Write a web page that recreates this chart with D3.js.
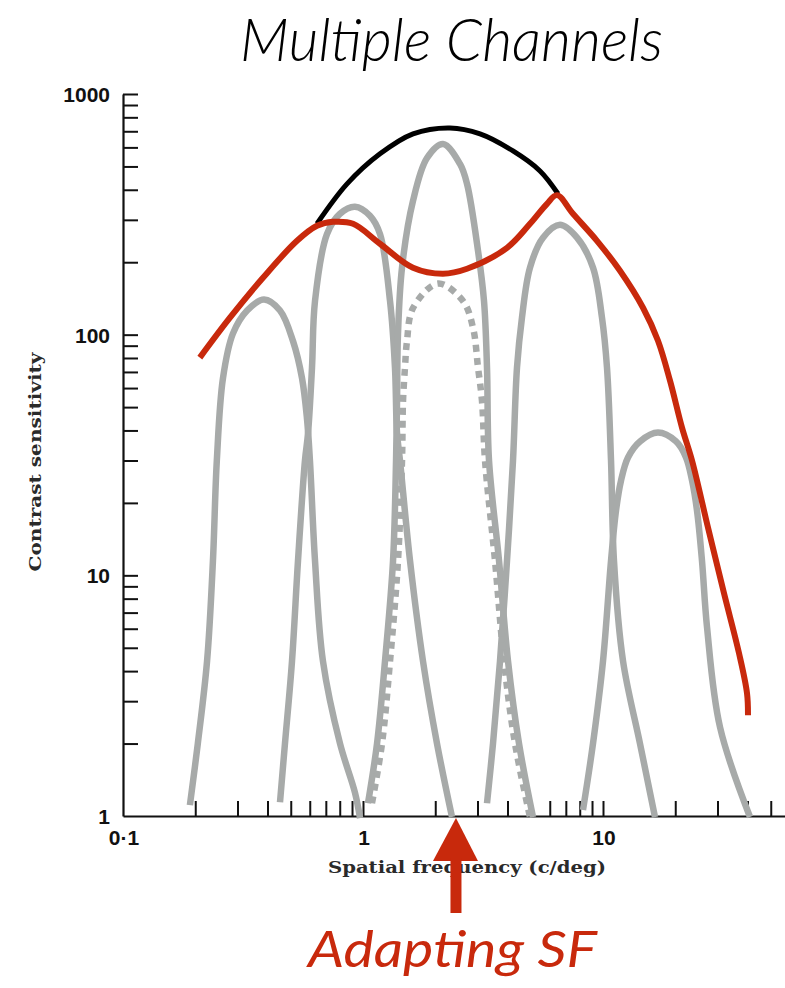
<!DOCTYPE html>
<html><head><meta charset="utf-8">
<script src="https://cdn.jsdelivr.net/npm/d3@7"></script>
<style>body{margin:0;background:#fff}svg{display:block}</style>
</head><body>
<svg id="c" width="785" height="988"></svg>
<script>
// ---- data (spatial frequency c/deg, contrast sensitivity) ----
const xTickValues = [0.2,0.3,0.4,0.5,0.6,0.7,0.8,0.9,1,2,3,4,5,6,7,8,9,10,20,30,40,50];
const yTickValues = [2,3,4,5,6,7,8,9,10,20,30,40,50,60,70,80,90,100,200,300,400,500,600,700,800,900,1000];
const xLabelValues = [0.1, 1, 10];
const xLabelTexts = ["0·1", "1", "10"];
const yLabelValues = [1, 10, 100, 1000];
const yLabelTexts = ["1", "10", "100", "1000"];

const channel1 = [[0.190,1.11],[0.205,2.0],[0.224,4.4],[0.237,11.5],[0.246,30],[0.261,66],[0.287,101],[0.329,126],[0.387,140],[0.451,126],[0.511,94],[0.557,66],[0.584,45],[0.601,30],[0.631,11.5],[0.681,4.4],[0.802,2.0],[0.926,1.25],[0.972,0.98]];
const channel2 = [[0.451,1.14],[0.473,2.0],[0.506,4.4],[0.536,11.5],[0.573,30],[0.590,38.8],[0.613,72.9],[0.631,138],[0.708,262],[0.802,318],[0.926,340],[1.069,312],[1.177,262],[1.296,138],[1.359,73],[1.386,39],[1.426,30],[1.570,11.5],[1.778,4.4],[2.034,2.0],[2.349,0.99]];
const channel3 = [[1.049,1.13],[1.144,2.0],[1.235,4.4],[1.334,11.5],[1.373,30],[1.386,53],[1.399,101],[1.454,190],[1.616,360],[1.848,542],[2.154,620],[2.536,512],[2.713,423],[3.015,223],[3.193,138],[3.286,73],[3.350,30],[3.688,11.5],[4.020,4.4],[4.467,2.0],[5.109,0.99]];
const channel3Adapted = [[1.090,1.13],[1.200,2.0],[1.296,4.4],[1.399,11.5],[1.454,30],[1.468,53],[1.496,73],[1.525,94],[1.616,129],[2.054,163],[2.610,138],[2.873,107],[3.015,73],[3.132,53],[3.224,30],[3.548,11.5],[3.868,4.4],[4.299,2.0],[4.964,0.99]];
const channel4 = [[3.286,1.13],[3.481,2.0],[3.723,4.4],[3.981,11.5],[4.217,30],[4.382,73],[4.597,118],[4.964,190],[5.623,253],[6.622,286],[7.794,253],[9.085,190],[9.90,118],[10.39,73],[10.80,30],[11.11,11.5],[12.12,4.4],[14.26,2.0],[16.47,0.99]];
const channel5 = [[8.254,1.06],[9.085,2.0],[10.0,4.4],[10.80,11.5],[11.33,18.6],[11.89,24.8],[12.71,30.9],[14.26,36.0],[16.95,39.2],[20.15,36.0],[22.17,30.9],[23.49,24.8],[24.64,18.6],[25.85,11.5],[27.13,6.09],[30.73,2.34],[40.97,0.99]];
const envelope = [[0.643,289],[0.858,423],[1.177,564],[1.616,683],[2.304,723],[3.073,683],[4.217,580],[5.464,479],[6.494,385]];
const adaptedCSF = [[0.209,80.3],[0.279,117.6],[0.383,172.4],[0.531,245.5],[0.643,283.4],[0.750,294.3],[0.909,288.8],[1.177,238.6],[1.616,189.7],[2.154,179.1],[2.713,187.9],[3.981,229.6],[4.964,288.8],[5.843,349.7],[6.429,380],[7.499,317.9],[9.441,245.5],[11.77,184.3],[14.68,129.4],[16.95,94.4],[19.02,64.4],[21.34,41.1],[23.49,30],[27.38,15.8],[31.93,8.42],[36.87,4.75],[39.81,3.24],[40.19,2.62]];
const adaptingSF = 2.44;

const titleText = "Multiple Channels";
const xTitle = "Spatial frequency (c/deg)";
const yTitle = "Contrast sensitivity";
const annotText = "Adapting SF";

// ---- drawing ----
const svg = d3.select("#c");
const x = d3.scaleLog().domain([0.1, 100]).range([123, 843]);
const y = d3.scaleLog().domain([1, 1000]).range([816, 94]);
const GRAY = "#a7aaa9", RED = "#c8290c";

svg.append("text").attr("x", 240).attr("y", 61)
  .attr("font-family", "Lato, 'Open Sans', sans-serif").attr("font-style", "italic").attr("font-weight", 300)
  .attr("font-size", 60).attr("textLength", 423).attr("lengthAdjust", "spacingAndGlyphs")
  .attr("fill", "#000").text(titleText);

const xAxis = svg.append("g").attr("transform", `translate(0,${y(1)})`)
  .call(d3.axisBottom(x).tickValues(xTickValues).tickSize(-15).tickSizeOuter(0).tickFormat(""));
const yAxis = svg.append("g").attr("transform", `translate(${x(0.1)},0)`)
  .call(d3.axisLeft(y).tickValues(yTickValues).tickSize(-15).tickSizeOuter(0).tickFormat(""));
[xAxis, yAxis].forEach(g => {
  g.select(".domain").attr("stroke", "#111").attr("stroke-width", 2.2);
  g.selectAll(".tick line").attr("stroke", "#111").attr("stroke-width", 2);
});

const labFont = "'Liberation Sans', Arial, sans-serif";
svg.append("g").selectAll("text").data(yLabelValues).join("text")
  .attr("x", 110).attr("y", d => y(d) + 8).attr("text-anchor", "end")
  .attr("font-family", labFont).attr("font-weight", "bold").attr("font-size", 21).attr("fill", "#111")
  .text((d, i) => yLabelTexts[i]);
svg.append("g").selectAll("text").data(xLabelValues).join("text")
  .attr("x", d => x(d) + 1).attr("y", 845).attr("text-anchor", "middle")
  .attr("font-family", labFont).attr("font-weight", "bold").attr("font-size", 21).attr("fill", "#111")
  .text((d, i) => xLabelTexts[i]);

const serif = "'DejaVu Serif', 'Liberation Serif', serif";
svg.append("text").attr("x", 467).attr("y", 873).attr("text-anchor", "middle")
  .attr("font-family", serif).attr("font-weight", "bold").attr("font-size", 17.5)
  .attr("textLength", 278).attr("lengthAdjust", "spacingAndGlyphs").attr("fill", "#2a2a2a").text(xTitle);
svg.append("text").attr("transform", "translate(41,462) rotate(-90)").attr("text-anchor", "middle")
  .attr("font-family", serif).attr("font-weight", "bold").attr("font-size", 17.5)
  .attr("textLength", 219).attr("lengthAdjust", "spacingAndGlyphs").attr("fill", "#2a2a2a").text(yTitle);

const line = d3.line().x(d => x(d[0])).y(d => y(d[1])).curve(d3.curveCatmullRom.alpha(0.5));
[channel1, channel2, channel3, channel4, channel5].forEach(c => {
  svg.append("path").attr("d", line(c)).attr("fill", "none").attr("stroke", GRAY).attr("stroke-width", 6.5);
});
svg.append("path").attr("d", line(channel3Adapted)).attr("fill", "none").attr("stroke", GRAY)
  .attr("stroke-width", 6.5).attr("stroke-dasharray", "7,6");
svg.append("path").attr("d", line(envelope)).attr("fill", "none").attr("stroke", "#000").attr("stroke-width", 5);
svg.append("path").attr("d", line(adaptedCSF)).attr("fill", "none").attr("stroke", RED).attr("stroke-width", 6);

// adapting arrow
const ax = x(adaptingSF);
svg.append("path").attr("d", `M${ax},818 L${ax - 23},861 L${ax + 22},861 Z`).attr("fill", RED);
svg.append("rect").attr("x", ax - 5.5).attr("y", 858).attr("width", 11).attr("height", 55).attr("fill", RED);
svg.append("text").attr("x", 308).attr("y", 967)
  .attr("font-family", "Lato, 'Open Sans', sans-serif").attr("font-style", "italic")
  .attr("font-size", 50).attr("textLength", 289).attr("lengthAdjust", "spacingAndGlyphs")
  .attr("fill", RED).text(annotText);
</script>
</body></html>
